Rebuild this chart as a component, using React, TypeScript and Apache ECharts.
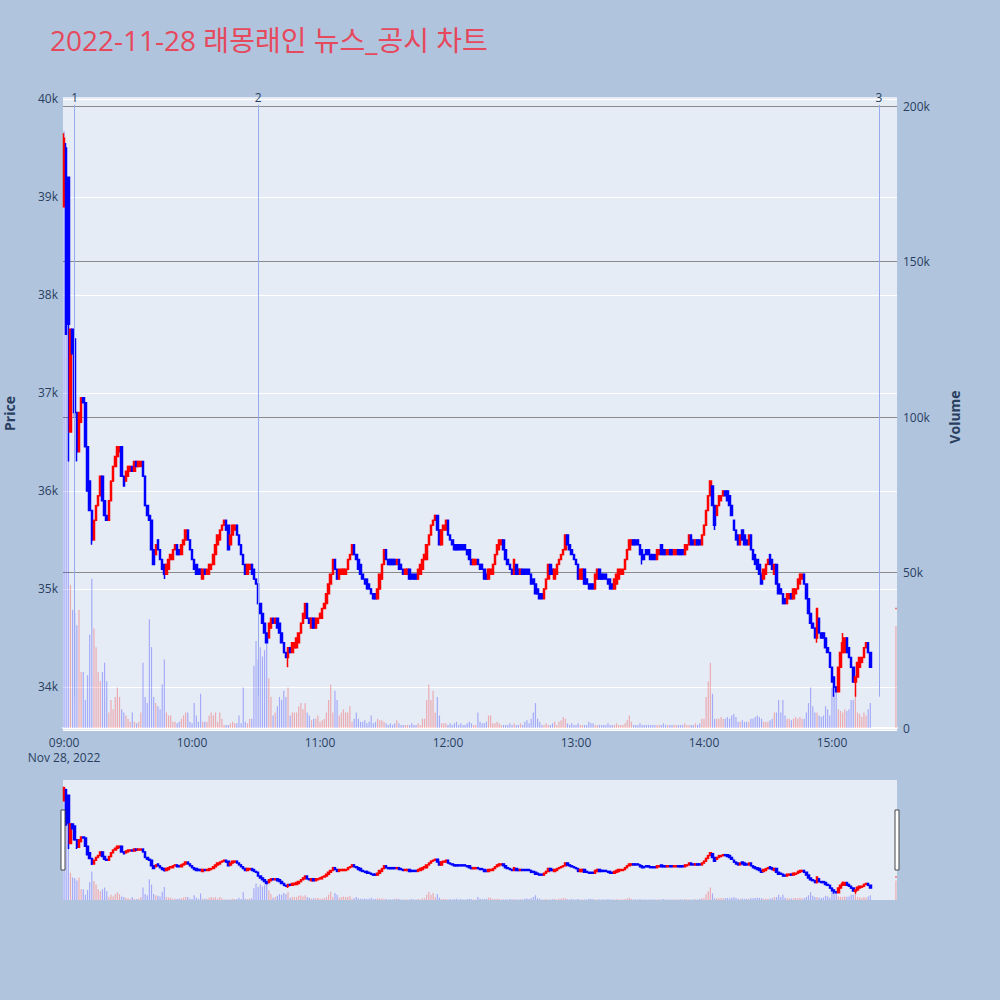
import React, { useEffect, useRef } from "react";
import * as echarts from "echarts";

const TITLE = "2022-11-28 래몽래인 뉴스_공시 차트";
const DATE_LABEL = "Nov 28, 2022";
const PRICE_NAME = "Price";
const VOLUME_NAME = "Volume";

// one candle per minute from 09:00 (index 0) to 15:18 (index 378)
const OPEN = [
  38900, 39500, 39200, 36600, 37650, 37550, 36800, 36400, 36700, 36950,
  36900, 36450, 36100, 35800, 35500, 35700, 35850, 35950, 36150, 35900,
  35750, 35700, 35900, 36100, 36250, 36350, 36400, 36450, 36150, 36100,
  36150, 36200, 36250, 36200, 36300, 36250, 36250, 36300, 36150, 35850,
  35750, 35700, 35400, 35350, 35500, 35400, 35300, 35250, 35150, 35200,
  35300, 35300, 35400, 35450, 35400, 35350, 35450, 35500, 35600, 35500,
  35400, 35300, 35250, 35200, 35200, 35100, 35200, 35150, 35150, 35200,
  35250, 35350, 35450, 35500, 35600, 35650, 35700, 35650, 35450, 35550,
  35600, 35650, 35550, 35450, 35350, 35250, 35150, 35200, 35250, 35200,
  35100, 35050, 34850, 34750, 34650, 34550, 34500, 34600, 34700, 34650,
  34700, 34650, 34550, 34450, 34350, 34300, 34400, 34350, 34400, 34400,
  34450, 34550, 34650, 34700, 34850, 34700, 34600, 34700, 34600, 34650,
  34700, 34700, 34800, 34850, 34950, 35050, 35150, 35300, 35200, 35100,
  35150, 35150, 35150, 35200, 35300, 35350, 35450, 35350, 35300, 35250,
  35150, 35100, 35100, 35050, 35000, 34950, 34950, 34900, 35000, 35100,
  35250, 35400, 35300, 35300, 35300, 35300, 35250, 35300, 35250, 35200,
  35150, 35150, 35200, 35150, 35150, 35150, 35100, 35150, 35200, 35300,
  35300, 35450, 35550, 35650, 35700, 35750, 35600, 35450, 35600, 35600,
  35700, 35550, 35500, 35450, 35450, 35450, 35450, 35450, 35450, 35400,
  35400, 35300, 35250, 35250, 35300, 35250, 35250, 35200, 35150, 35100,
  35150, 35150, 35250, 35350, 35400, 35450, 35500, 35400, 35300, 35250,
  35200, 35150, 35250, 35200, 35150, 35200, 35200, 35200, 35200, 35150,
  35100, 35050, 35000, 34950, 34950, 34900, 35000, 35100, 35250, 35200,
  35100, 35150, 35250, 35300, 35350, 35400, 35550, 35450, 35400, 35350,
  35300, 35250, 35100, 35100, 35200, 35100, 35050, 35050, 35050, 35000,
  35100, 35200, 35150, 35150, 35150, 35100, 35100, 35050, 35000, 35050,
  35100, 35150, 35150, 35200, 35300, 35400, 35450, 35500, 35500, 35500,
  35450, 35400, 35350, 35400, 35400, 35350, 35350, 35350, 35300, 35350,
  35450, 35400, 35400, 35350, 35400, 35400, 35350, 35350, 35400, 35400,
  35400, 35350, 35400, 35450, 35550, 35500, 35450, 35500, 35500, 35450,
  35550, 35650, 35800, 35950, 36050, 35850, 35750, 35850, 35900, 35950,
  36000, 36000, 35950, 35850, 35700, 35600, 35550, 35450, 35600, 35550,
  35500, 35450, 35550, 35400, 35350, 35300, 35250, 35150, 35100, 35150,
  35250, 35350, 35300, 35150, 35250, 35050, 35000, 34950, 34900, 34850,
  34900, 34950, 34900, 34950, 35000, 35050, 35100, 35150, 35050, 34900,
  34750, 34650, 34600, 34500, 34700, 34550, 34550, 34500, 34400, 34350,
  34200, 34100, 34000, 33950, 34200, 34350, 34350, 34500, 34400, 34300,
  34200, 34050, 34100, 34200, 34250, 34300, 34400, 34450, 34350,
];

const CLOSE = [
  39600, 37600, 37700, 37650, 37400, 36800, 36400, 36800, 36950, 36900,
  36450, 36000, 35800, 35500, 35700, 35850, 35950, 36150, 35900, 35750,
  35700, 35900, 36100, 36250, 36350, 36450, 36450, 36150, 36050, 36200,
  36250, 36250, 36200, 36300, 36250, 36300, 36300, 36150, 35850, 35750,
  35700, 35400, 35250, 35450, 35400, 35300, 35200, 35150, 35250, 35300,
  35350, 35400, 35450, 35350, 35350, 35450, 35500, 35600, 35500, 35400,
  35300, 35200, 35150, 35150, 35150, 35200, 35150, 35200, 35250, 35250,
  35350, 35450, 35550, 35600, 35650, 35700, 35600, 35400, 35550, 35650,
  35650, 35550, 35450, 35350, 35250, 35150, 35250, 35250, 35150, 35100,
  35050, 34850, 34750, 34650, 34550, 34450, 34650, 34700, 34650, 34700,
  34600, 34550, 34450, 34350, 34300, 34400, 34350, 34450, 34450, 34500,
  34550, 34650, 34750, 34850, 34700, 34650, 34700, 34600, 34700, 34700,
  34750, 34800, 34850, 34950, 35050, 35150, 35300, 35200, 35100, 35200,
  35200, 35200, 35200, 35300, 35350, 35450, 35350, 35300, 35200, 35150,
  35100, 35050, 35000, 35000, 34950, 34900, 34900, 35000, 35150, 35250,
  35400, 35300, 35250, 35250, 35250, 35250, 35300, 35200, 35200, 35150,
  35200, 35200, 35100, 35100, 35100, 35100, 35200, 35250, 35300, 35350,
  35450, 35550, 35650, 35700, 35750, 35600, 35450, 35600, 35650, 35700,
  35550, 35500, 35450, 35400, 35400, 35400, 35400, 35400, 35400, 35350,
  35300, 35250, 35300, 35300, 35250, 35200, 35200, 35100, 35100, 35200,
  35200, 35250, 35350, 35450, 35500, 35500, 35400, 35300, 35250, 35200,
  35150, 35300, 35150, 35150, 35200, 35150, 35150, 35150, 35150, 35050,
  35050, 34950, 34950, 34900, 34900, 35000, 35100, 35250, 35150, 35150,
  35200, 35250, 35300, 35350, 35400, 35550, 35450, 35400, 35350, 35300,
  35250, 35100, 35200, 35200, 35050, 35050, 35000, 35000, 35000, 35150,
  35200, 35100, 35100, 35100, 35100, 35050, 35000, 35000, 35100, 35150,
  35200, 35200, 35200, 35300, 35400, 35500, 35500, 35450, 35450, 35450,
  35350, 35300, 35300, 35350, 35350, 35300, 35300, 35300, 35400, 35400,
  35350, 35350, 35350, 35400, 35350, 35350, 35400, 35400, 35350, 35350,
  35350, 35450, 35450, 35550, 35450, 35450, 35500, 35450, 35450, 35550,
  35650, 35800, 35950, 36100, 35850, 35650, 35850, 35950, 35950, 36000,
  35950, 35900, 35850, 35750, 35600, 35500, 35450, 35550, 35500, 35450,
  35450, 35550, 35400, 35300, 35250, 35200, 35150, 35050, 35200, 35250,
  35300, 35250, 35200, 35250, 35050, 34950, 34950, 34850, 34850, 34950,
  34950, 34900, 35000, 35000, 35100, 35150, 35150, 35050, 34900, 34750,
  34650, 34600, 34500, 34800, 34550, 34500, 34500, 34400, 34350, 34200,
  34050, 34000, 33950, 34200, 34350, 34450, 34500, 34350, 34300, 34200,
  34050, 34100, 34250, 34300, 34300, 34400, 34450, 34350, 34200,
];

// [minute index, low, high] for candles whose wicks reach beyond the body
const WICKS = [
  [0, 38900, 39650],
  [1, 37600, 39550],
  [2, 36300, 39200],
  [5, 36750, 37550],
  [6, 36300, 36800],
  [13, 35450, 35800],
  [47, 35100, 35250],
  [105, 34200, 34400],
  [271, 35250, 35400],
  [305, 35600, 35850],
  [353, 34450, 34800],
  [361, 33900, 34100],
  [365, 34350, 34550],
  [371, 33900, 34100],
];

// volume in thousands of shares, per minute
const VOLUME_K = [
  192, 130, 100, 46, 38, 37, 33, 38, 18, 18,
  9, 17, 30, 48, 32, 26, 18, 15, 18, 21,
  15, 5, 9, 6, 10, 13, 10, 6, 5, 4,
  3, 2, 5, 2, 1.5, 2, 5, 21, 10, 8,
  35, 26, 10, 8, 7, 6, 14, 22, 5, 4,
  4, 2, 2, 1.5, 2, 3, 4, 5, 5, 2,
  1.5, 8, 4, 2, 11, 2, 2, 2, 4, 5,
  4, 5, 2, 5, 3, 1, 1, 1, 1.5, 2,
  1.5, 1.5, 4, 1.5, 13, 2, 1.5, 3, 3, 20,
  28, 22, 26, 23, 25, 28, 16, 10, 4, 5,
  7, 10, 9, 12, 10, 13, 4, 5, 5, 5,
  7, 8, 6, 8, 5, 4, 2.5, 3, 3, 4,
  2, 2.5, 3, 5, 9, 14, 5, 12, 9, 4,
  5, 6, 5, 5, 7, 2, 3, 5, 3, 2,
  2, 2.5, 1.5, 2, 4, 1.5, 2, 3, 2.5, 2.5,
  2, 1.5, 1, 1.5, 1, 1.5, 2.5, 1.5, 1, 1,
  1, 1, 1, 1.5, 1, 1, 1.5, 1, 3, 3,
  9, 14, 9, 12, 5, 10, 4, 1.5, 1.5, 1.5,
  1, 1.5, 1, 1.5, 2, 1, 1.5, 1, 1, 1.5,
  2, 1.5, 1, 1, 5, 2, 1.5, 1.5, 2, 4,
  4, 1.5, 1.5, 2, 1.5, 1, 1, 1, 1, 1.5,
  1, 1.5, 1, 1, 1.5, 1, 2, 2.5, 1.5, 3,
  5, 8, 3, 2, 1, 1, 1.5, 1, 1, 1.5,
  2, 1, 2, 2.5, 3.5, 3, 1.5, 1, 1.5, 1,
  1, 1.5, 1, 1, 1, 1, 2, 1.5, 1.5, 1,
  1, 1, 1, 1, 1, 1.5, 1, 1, 1, 1.5,
  1, 1, 1, 1.5, 2.5, 4, 2, 1, 1, 1,
  1.5, 1, 1, 1, 1, 1, 1, 1, 1, 1,
  1, 1.5, 1, 1, 1, 1, 1, 1, 1, 1,
  1, 1.5, 1, 1, 1, 1, 1.5, 1, 1.5, 3,
  3, 10, 15, 21, 11, 3, 3, 3, 3.5, 3,
  3, 3.5, 3, 4, 4.5, 3.5, 2, 2, 2.5, 2,
  2, 2, 3, 3, 3.5, 4, 3.5, 3, 2, 2,
  2, 2.5, 3, 5, 5, 9, 5, 9, 4, 3,
  3, 2.5, 3, 3.5, 3, 3.5, 3, 3, 5, 8,
  13, 7, 5, 5, 4, 3.5, 4, 7, 6, 4,
  13, 11, 13, 6, 5.5, 5, 6, 5.5, 6, 9,
  9, 12, 5, 4.5, 3.5, 5, 4, 6, 8,
];

// closing single-price auction at 15:30
const AUCTION_MINUTE = 390;
const AUCTION_PRICE = 34800;
const AUCTION_VOLUME_K = 32.8;

// news / disclosure markers
const NEWS_LABELS = ["1", "2", "3"];
const NEWS_TIMES = ["09:05", "10:31", "15:22"];
const NEWS_TOP = 39940;
const NEWS_BOTTOM = 33900;

const PRICE_MIN = 33560;
const PRICE_MAX = 40020;
const PRICE_STEP = 1000;
const VOLUME_MAX = 200000;
const VOLUME_STEP = 50000;
const SLIDER_VOLUME_MAX = 202900;

const SESSION_MINUTES = 391;

const RED = "#ff0000";
const BLUE = "#0000ff";
const RED_A = "rgba(255,0,0,0.28)";
const BLUE_A = "rgba(0,0,255,0.28)";
const AXIS_COLOR = "#2a3f5f";
const FONT = '"Open Sans", "Noto Sans CJK KR", sans-serif';

function minuteLabel(m: number): string {
  const t = 9 * 60 + m;
  const h = Math.floor(t / 60);
  const mm = t % 60;
  return `${String(h).padStart(2, "0")}:${String(mm).padStart(2, "0")}`;
}

const CATEGORIES = Array.from({ length: SESSION_MINUTES }, (_, i) => minuteLabel(i));

function buildCandles() {
  const out: any[] = [];
  for (let i = 0; i < SESSION_MINUTES; i++) {
    if (i < OPEN.length) {
      const o = OPEN[i];
      const c = CLOSE[i];
      let lo = Math.min(o, c);
      let hi = Math.max(o, c);
      const w = WICKS.find((x) => x[0] === i);
      if (w) {
        lo = Math.min(lo, w[1]);
        hi = Math.max(hi, w[2]);
      }
      out.push([o, c, lo, hi]);
    } else if (i === AUCTION_MINUTE) {
      out.push({
        value: [AUCTION_PRICE, AUCTION_PRICE, AUCTION_PRICE, AUCTION_PRICE],
        itemStyle: { color: RED, color0: RED, borderColor: RED, borderColor0: RED },
      });
    } else {
      out.push(["-", "-", "-", "-"]);
    }
  }
  return out;
}

function buildVolumes() {
  const out: any[] = [];
  for (let i = 0; i < SESSION_MINUTES; i++) {
    if (i < VOLUME_K.length) {
      const up = i > 0 && CLOSE[i] >= OPEN[i];
      out.push({ value: VOLUME_K[i] * 1000, itemStyle: { color: up ? RED_A : BLUE_A } });
    } else if (i === AUCTION_MINUTE) {
      out.push({ value: AUCTION_VOLUME_K * 1000, itemStyle: { color: RED_A } });
    } else {
      out.push("-");
    }
  }
  return out;
}

export default function App() {
  const ref = useRef<HTMLDivElement>(null);

  useEffect(() => {
    if (!ref.current) return;
    const chart = echarts.init(ref.current, undefined, { renderer: "svg" });
    const candles = buildCandles();
    const volumes = buildVolumes();

    const candleStyle = {
      color: RED,
      color0: BLUE,
      borderColor: RED,
      borderColor0: BLUE,
      borderWidth: 1.5,
    };

    const gridBase = { left: 63, width: 834, outerBoundsMode: "none", containLabel: false };

    const option: any = {
      animation: false,
      backgroundColor: "#b0c4de",
      textStyle: { fontFamily: FONT },
      title: {
        text: TITLE,
        left: 45,
        top: 21,
        textStyle: { color: "#e6485c", fontSize: 28, fontWeight: "normal", fontFamily: FONT },
      },
      grid: [
        { ...gridBase, top: 97, height: 633, show: true, backgroundColor: "#e5ecf6", borderWidth: 0 },
        { ...gridBase, top: 106, height: 622, show: false },
        { ...gridBase, top: 780, height: 120, show: true, backgroundColor: "#e5ecf6", borderWidth: 0 },
        { ...gridBase, top: 780, height: 120, show: false },
      ],
      xAxis: [
        {
          type: "category",
          gridIndex: 0,
          data: CATEGORIES,
          boundaryGap: true,
          axisLine: { show: false },
          axisTick: { show: false },
          splitLine: { show: false },
          axisLabel: {
            interval: (i: number) => i % 60 === 0,
            formatter: (v: string, i: number) => (i === 0 ? `${v}\n${DATE_LABEL}` : v),
            color: AXIS_COLOR,
            fontSize: 12,
            lineHeight: 15,
            margin: 5,
            fontFamily: FONT,
          },
        },
        {
          type: "category",
          gridIndex: 1,
          data: CATEGORIES,
          boundaryGap: true,
          axisLine: { show: true, lineStyle: { color: "#ffffff", width: 2 } },
          axisTick: { show: false },
          axisLabel: { show: false },
          splitLine: { show: false },
        },
        { type: "category", gridIndex: 2, data: CATEGORIES, boundaryGap: true, show: false },
        { type: "category", gridIndex: 3, data: CATEGORIES, boundaryGap: true, show: false },
      ],
      yAxis: [
        {
          type: "value",
          gridIndex: 0,
          min: PRICE_MIN,
          max: PRICE_MAX,
          minInterval: PRICE_STEP,
          maxInterval: PRICE_STEP,
          name: PRICE_NAME,
          nameLocation: "middle",
          nameRotate: 90,
          nameGap: 47,
          nameTextStyle: { color: AXIS_COLOR, fontSize: 14, fontWeight: "bold", fontFamily: FONT },
          axisLine: { show: false },
          axisTick: { show: false },
          axisLabel: {
            color: AXIS_COLOR,
            fontSize: 12,
            margin: 5,
            fontFamily: FONT,
            showMinLabel: true,
            showMaxLabel: true,
            formatter: (v: number) => (v % PRICE_STEP === 0 ? `${v / 1000}k` : ""),
          },
          splitLine: { show: true, showMaxLine: false, lineStyle: { color: "#ffffff", width: 1 } },
        },
        {
          type: "value",
          gridIndex: 1,
          position: "right",
          min: 0,
          max: VOLUME_MAX,
          interval: VOLUME_STEP,
          name: VOLUME_NAME,
          nameLocation: "middle",
          nameRotate: 90,
          nameGap: 50,
          nameTextStyle: { color: AXIS_COLOR, fontSize: 14, fontWeight: "bold", fontFamily: FONT },
          axisLine: { show: false },
          axisTick: { show: false },
          axisLabel: {
            color: AXIS_COLOR,
            fontSize: 12,
            margin: 6,
            fontFamily: FONT,
            formatter: (v: number) => (v === 0 ? "0" : `${v / 1000}k`),
          },
          splitLine: { show: true, showMinLine: false, lineStyle: { color: "#8a8a8a", width: 1 } },
        },
        { type: "value", gridIndex: 2, min: PRICE_MIN, max: PRICE_MAX, show: false, splitLine: { show: false } },
        { type: "value", gridIndex: 3, min: 0, max: SLIDER_VOLUME_MAX, show: false, splitLine: { show: false } },
      ],
      series: [
        {
          type: "bar",
          xAxisIndex: 1,
          yAxisIndex: 1,
          data: volumes,
          barWidth: 1.2,
          z: 1,
          silent: true,
        },
        {
          type: "candlestick",
          xAxisIndex: 0,
          yAxisIndex: 0,
          data: candles,
          barWidth: 2,
          z: 3,
          itemStyle: candleStyle,
          markLine: {
            silent: true,
            symbol: ["none", "none"],
            animation: false,
            lineStyle: { color: "#97aaf0", width: 1, type: "solid" },
            label: {
              show: true,
              position: "start",
              distance: 1,
              formatter: "{b}",
              color: AXIS_COLOR,
              fontSize: 12,
              fontFamily: FONT,
            },
            data: NEWS_TIMES.map((t, i) => [
              { name: NEWS_LABELS[i], coord: [t, NEWS_TOP] },
              { coord: [t, NEWS_BOTTOM] },
            ]),
          },
        },
        {
          type: "bar",
          xAxisIndex: 3,
          yAxisIndex: 3,
          data: volumes,
          barWidth: 1.2,
          z: 1,
          silent: true,
        },
        {
          type: "candlestick",
          xAxisIndex: 2,
          yAxisIndex: 2,
          data: candles,
          barWidth: 2,
          z: 3,
          silent: true,
          itemStyle: candleStyle,
        },
      ],
      graphic: [
        {
          type: "rect",
          shape: { x: 61, y: 810, width: 4, height: 60 },
          style: { fill: "#ffffff", stroke: "#444444", lineWidth: 1 },
          z: 10,
        },
        {
          type: "rect",
          shape: { x: 895, y: 810, width: 4, height: 60 },
          style: { fill: "#ffffff", stroke: "#444444", lineWidth: 1 },
          z: 10,
        },
      ],
    };

    chart.setOption(option);
    return () => chart.dispose();
  }, []);

  return (
    <div
      ref={ref}
      style={{ position: "absolute", left: 0, top: 0, width: 1000, height: 1000 }}
    />
  );
}
